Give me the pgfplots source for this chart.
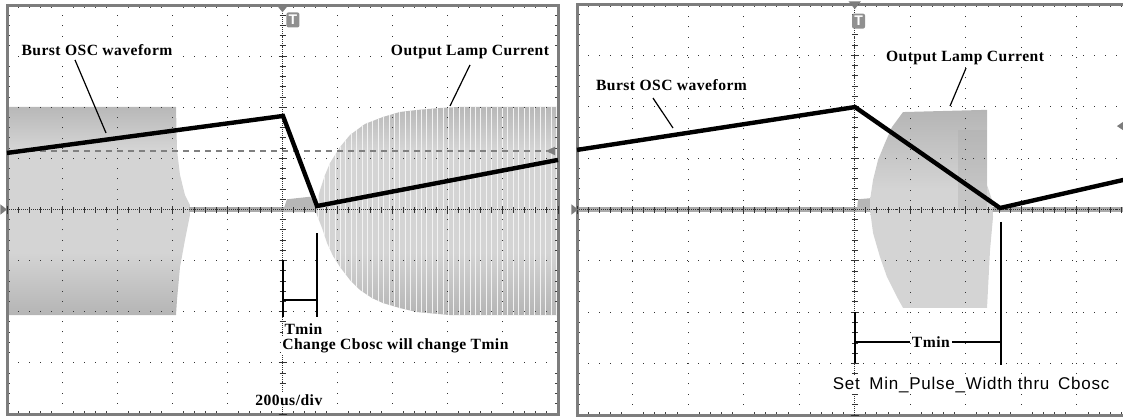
\documentclass[border=0pt]{standalone}
\usepackage{fontspec}
\setmainfont{Liberation Serif}
\newfontfamily\sansf{Liberation Sans}
\usepackage{pgfplots}
\pgfplotsset{compat=1.18}
\usetikzlibrary{patterns.meta}

\definecolor{trdark}{RGB}{170,170,170}
\definecolor{trlight}{RGB}{212,212,212}
\definecolor{frame}{RGB}{125,125,125}

% trace shading: dark top and bottom bands, light middle
\pgfdeclareverticalshading{burst}{100bp}{color(0bp)=(trdark); color(20bp)=(trdark); color(40bp)=(trlight);
  color(65bp)=(trlight); color(80bp)=(trdark); color(100bp)=(trdark)}
\pgfdeclareverticalshading{block}{100bp}{color(0bp)=(trlight); color(55bp)=(trlight);
  color(82bp)=(trdark); color(100bp)=(trdark)}

\newcommand\ann{\bfseries\fontsize{7.8}{8}\selectfont\addfontfeature{LetterSpace=3}}
\tikzset{lbl/.style={inner sep=0.8pt, fill=white}}

% one scope screen: box, dotted graticule, border ticks
\pgfplotsset{
  screen/.style={
    scale only axis, xmin=-5, xmax=5, ymin=-4, ymax=4,
    xtick={-5,...,5}, ytick={-4,...,4}, xticklabels={}, yticklabels={},
    minor x tick num=4, minor y tick num=4,
    tick align=inside, major tick length=0pt, minor tick length=1.5pt,
    minor tick style={black!75, line width=0.5pt},
    grid=major,
    major x grid style={black!80, line width=0.5pt, dash pattern=on 0.5pt off 4.6pt},
    major y grid style={black!80, line width=0.5pt, dash pattern=on 0.5pt off 5pt},
    axis line style={frame, line width=1.5pt},
    axis on top,
  },
  cross/.style={
    scale only axis, xmin=-5, xmax=5, ymin=-4, ymax=4,
    axis lines=middle,
    axis line style={-, black!80, line width=0.5pt, dash pattern=on 0.5pt off 0.5pt},
    xtick={-5,...,5}, ytick={-4,...,4}, xticklabels={}, yticklabels={},
    minor x tick num=4, minor y tick num=4,
    tick align=center, major tick length=4pt, minor tick length=3pt,
    tick style={black!80, line width=0.5pt},
    clip=false,
  },
}

\pgfplotstableread{
x y
0.590 0.010
0.681 0.382
0.771 0.675
0.862 0.910
1.044 1.223
1.225 1.458
1.497 1.673
1.824 1.810
2.132 1.908
2.441 1.947
2.858 1.986
3.221 2.006
5 2.006
5 -2.065
3.040 -2.065
2.441 -2.006
2.132 -1.928
1.824 -1.830
1.624 -1.732
1.407 -1.575
1.225 -1.380
1.044 -1.125
0.917 -0.910
0.808 -0.656
0.717 -0.362
0.626 -0.108
}\lamp

\begin{document}
\begin{tikzpicture}
\useasboundingbox (0,0) rectangle (561.5pt,208.5pt);

% ---------------- left screen ----------------
\begin{axis}[screen, at={(3.5pt,1.5pt)}, anchor=south west, width=275.5pt, height=204.5pt]
  % burst before the step
  \addplot[draw=none, shade, shading=burst] coordinates {
    (-5,2.006) (-1.933,2.006) (-1.915,1.164) (-1.860,0.675) (-1.770,0.284) (-1.679,0.088)
    (-1.679,-0.108) (-1.770,-0.597) (-1.860,-1.125) (-1.915,-1.771) (-1.933,-2.065) (-5,-2.065)
  } -- cycle;
  % baseline trace
  \addplot[trdark, line width=2.5pt] coordinates {(-1.7,0) (5,0)};
  % small bump at trigger
  \addplot[draw=none, fill=trdark!85!white] coordinates {
    (0.02,0) (0.08,0.2) (0.5,0.25) (0.62,0.08) (0.62,-0.05) (0.02,-0.05)
  } -- cycle;
  % lamp current building up, with its fine vertical striation
  \addplot[draw=none, shade, shading=burst] table {\lamp} -- cycle;
  \addplot[draw=none, pattern={Lines[angle=90, distance=2.7pt, line width=0.3pt]},
           pattern color=white!70!trlight] table {\lamp} -- cycle;
\end{axis}

\begin{axis}[cross, at={(3.5pt,1.5pt)}, anchor=south west, width=275.5pt, height=204.5pt]
  \addplot[gray, line width=0.7pt, dash pattern=on 3pt off 2.5pt] coordinates {(-5,1.145) (4.8,1.145)};
  \addplot[black, line width=2.2pt] coordinates {(-5,1.106) (0.009,1.83) (0.626,0.068) (5,0.97)};
  % markers
  \fill[frame] (axis cs:4.78,1.145) -- (axis cs:4.95,1.23) -- (axis cs:4.95,1.06) -- cycle;
  \fill[frame] (axis cs:-5.12,0.1) -- (axis cs:-5.12,-0.1) -- (axis cs:-5.0,0) -- cycle;
  \fill[frame] (axis cs:-0.11,4) -- (axis cs:0.11,4) -- (axis cs:0,3.86) -- cycle;
  \node[fill=frame!85, rounded corners=1pt, minimum width=6.5pt, minimum height=7.5pt, inner sep=0pt,
        text=white, font=\sansf\bfseries\fontsize{7}{7}\selectfont] at (axis cs:0.19,3.708) {T};
  % annotations
  \node[lbl] at (axis cs:-3.367,3.121) {\ann Burst OSC waveform};
  \draw[line width=0.6pt] (axis cs:-3.766,2.926) -- (axis cs:-3.203,1.497);
  \node[lbl] at (axis cs:3.403,3.082) {\ann Output Lamp Current};
  \draw[line width=0.6pt] (axis cs:3.403,2.828) -- (axis cs:3.040,2.025);
  \draw[line width=1pt] (axis cs:0.018,-0.988) -- (axis cs:0.018,-2.104);
  \draw[line width=1pt] (axis cs:0.626,-0.460) -- (axis cs:0.626,-2.104);
  \draw[line width=0.6pt] (axis cs:0.018,-1.771) -- (axis cs:0.626,-1.771);
  \node[lbl, anchor=west] at (axis cs:0.0,-2.339) {\ann Tmin};
  \node[lbl, anchor=west] at (axis cs:-0.04,-2.671) {\ann Change Cbosc will change Tmin};
  \node[lbl, anchor=west] at (axis cs:-0.53,-3.728) {\ann 200us/div};
\end{axis}

% ---------------- right screen ----------------
\begin{axis}[screen, at={(288.5pt,1pt)}, anchor=south west, width=277.75pt, height=205.5pt]
  \addplot[trdark, line width=2.2pt] coordinates {(-5,0) (5,0)};
  \addplot[draw=none, fill=trdark!85!white] coordinates {
    (0.04,0) (0.06,0.2) (0.28,0.22) (0.28,-0.04) (0.04,-0.04)
  } -- cycle;
  \addplot[draw=none, shade, shading=block] coordinates {
    (0.869,1.897) (2.381,1.940) (2.381,0.477) (2.471,0.185) (2.489,-0.146) (2.435,-0.788)
    (2.381,-1.916) (0.869,-1.916) (0.760,-1.702) (0.580,-1.313) (0.454,-0.924) (0.329,-0.457)
    (0.275,-0.010) (0.275,0.185) (0.329,0.574) (0.418,0.963) (0.544,1.294) (0.670,1.605)
  } -- cycle;
  % darker patch on the right of the block
  \addplot[draw=none, fill=trdark, fill opacity=0.35] coordinates {
    (1.85,1.55) (2.381,1.55) (2.381,0.0) (1.85,0.0)
  } -- cycle;
\end{axis}

\begin{axis}[cross, at={(288.5pt,1pt)}, anchor=south west, width=277.75pt, height=205.5pt]
  \addplot[black, line width=2.2pt] coordinates {(-5,1.16) (0.0045,1.994) (2.615,0.029) (5,0.616)};
  \fill[frame] (axis cs:4.72,1.624) -- (axis cs:4.85,1.72) -- (axis cs:4.85,1.53) -- cycle;
  \fill[frame] (axis cs:-5.1,0.1) -- (axis cs:-5.1,-0.1) -- (axis cs:-4.98,0) -- cycle;
  \fill[frame] (axis cs:-0.11,4.05) -- (axis cs:0.11,4.05) -- (axis cs:0,3.9) -- cycle;
  \node[fill=frame!85, rounded corners=1pt, minimum width=6.5pt, minimum height=7.5pt, inner sep=0pt,
        text=white, font=\sansf\bfseries\fontsize{7}{7}\selectfont] at (axis cs:0.068,3.667) {T};
  \node[lbl] at (axis cs:-3.299,2.422) {\ann Burst OSC waveform};
  \draw[line width=0.6pt] (axis cs:-3.632,2.169) -- (axis cs:-3.272,1.586);
  \node[lbl] at (axis cs:1.985,2.947) {\ann Output Lamp Current};
  \draw[line width=0.6pt] (axis cs:2.003,2.753) -- (axis cs:1.715,2.014);
  \draw[line width=1pt] (axis cs:0.004,-1.994) -- (axis cs:0.004,-2.986);
  \draw[line width=1pt] (axis cs:2.633,-0.243) -- (axis cs:2.633,-3.025);
  \draw[line width=0.6pt] (axis cs:0.004,-2.578) -- (axis cs:0.995,-2.578);
  \draw[line width=0.6pt] (axis cs:1.75,-2.578) -- (axis cs:2.633,-2.578);
  \node[inner sep=0pt] at (axis cs:1.37,-2.578) {\ann Tmin};
  \node[lbl, anchor=west] at (axis cs:-0.43,-3.414)
    {\sansf\fontsize{8.5}{9}\selectfont\addfontfeature{LetterSpace=4.5}Set\hspace{2pt}
     Min\_Pulse\_Width thru\hspace{1.6pt} Cbosc};
\end{axis}
\end{tikzpicture}
\end{document}
